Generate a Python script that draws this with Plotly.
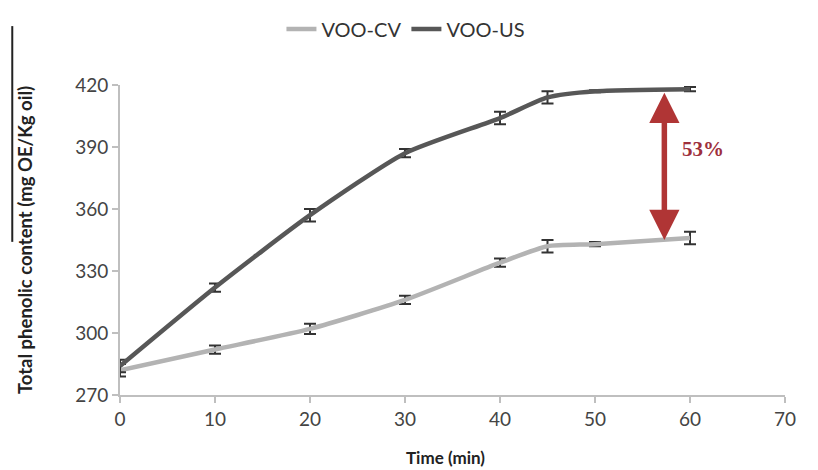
import plotly.graph_objects as go

time_min = [0, 10, 20, 30, 40, 45, 50, 60]
voo_cv = [282, 292, 302, 316, 334, 342, 343, 346]
voo_cv_err = [3, 2, 2.5, 2, 2, 3, 1, 3]
voo_us = [284, 322, 357, 387, 404, 414, 417, 418]
voo_us_err = [3, 2, 3, 2, 3, 3, 0.5, 1]

x_ticks = [0, 10, 20, 30, 40, 50, 60, 70]
y_ticks = [270, 300, 330, 360, 390, 420]

arrow_x = 57.3
label_text = "53%"
x_title = "Time (min)"
y_title = "Total phenolic content (mg OE/Kg oil)"

font_family = "Lato, 'Open Sans', sans-serif"

fig = go.Figure()
fig.add_trace(go.Scatter(
    x=time_min, y=voo_cv, name="VOO-CV", mode="lines",
    line=dict(color="#b3b3b3", width=4.5, shape="spline", smoothing=0.6),
    error_y=dict(type="data", array=voo_cv_err, visible=True, color="#333333", thickness=2, width=6),
))
fig.add_trace(go.Scatter(
    x=time_min, y=voo_us, name="VOO-US", mode="lines",
    line=dict(color="#575757", width=4.5, shape="spline", smoothing=0.6),
    error_y=dict(type="data", array=voo_us_err, visible=True, color="#333333", thickness=2, width=6),
))

fig.add_annotation(
    x=arrow_x, y=voo_cv[-1] - 1, ax=arrow_x, ay=voo_us[-1] - 1,
    xref="x", yref="y", axref="x", ayref="y",
    showarrow=True, arrowhead=2, arrowside="end+start", arrowsize=1.1,
    arrowwidth=5.5, arrowcolor="#b03535", text="",
)
fig.add_annotation(
    x=58.9, y=389, xref="x", yref="y", text="<b>" + label_text + "</b>",
    showarrow=False, xanchor="left", yanchor="middle",
    font=dict(family="'Liberation Serif', serif", size=21, color="#9e2f3c"),
)
fig.add_annotation(
    x=0.49, y=-0.2, xref="paper", yref="paper", text="<b>" + x_title + "</b>",
    showarrow=False, xanchor="center", yanchor="middle",
    font=dict(size=17, color="#222222"),
)

# thin dark overline next to the y-axis title, as in the source image
fig.add_shape(type="line", xref="paper", yref="paper",
              x0=-0.162, x1=-0.162, y0=0.494, y1=1.19,
              line=dict(color="#222222", width=2))

fig.update_layout(
    width=818, height=470,
    margin=dict(l=120, r=33, t=85, b=75),
    paper_bgcolor="white", plot_bgcolor="white",
    font=dict(family=font_family, color="#444444"),
    showlegend=True,
    legend=dict(orientation="h", x=0.43, xanchor="center", y=0.98, yref="container", yanchor="top",
                font=dict(size=20, color="#333333")),
    xaxis=dict(range=[0, 70], tickvals=x_ticks, showgrid=False, zeroline=False,
               showline=True, linecolor="#bfbfbf", linewidth=2,
               ticks="outside", ticklen=6, tickcolor="#bfbfbf", tickwidth=1.5,
               tickfont=dict(size=19, color="#444444")),
    yaxis=dict(range=[270, 420], tickvals=y_ticks, showgrid=False, zeroline=False,
               showline=True, linecolor="#bfbfbf", linewidth=2,
               ticks="outside", ticklen=6, tickcolor="#bfbfbf", tickwidth=1.5,
               tickfont=dict(size=19, color="#444444"),
               title=dict(text="<b>" + y_title + "</b>", font=dict(size=18.5, color="#222222"), standoff=38)),
)

fig.write_html("out.html")
